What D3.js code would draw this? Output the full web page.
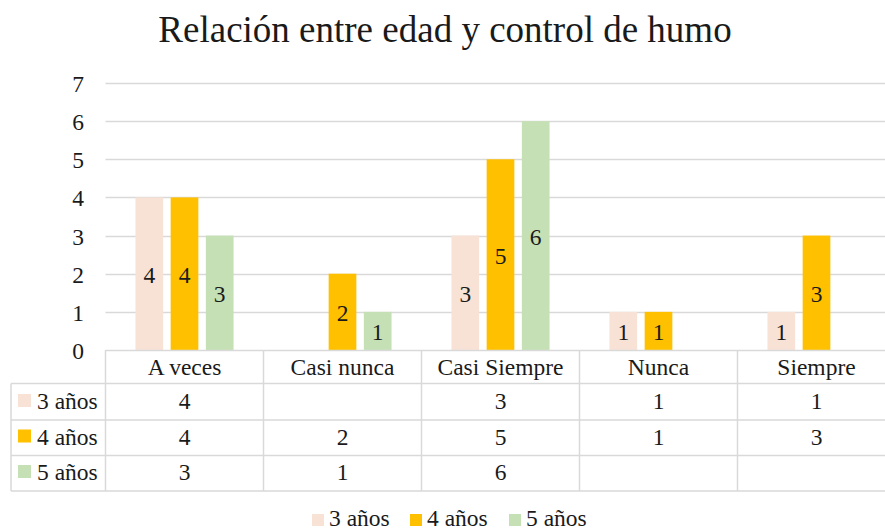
<!DOCTYPE html>
<html><head><meta charset="utf-8">
<script src="https://cdn.jsdelivr.net/npm/d3@7"></script>
<style>body{margin:0;background:#fff}svg{display:block}text{font-family:"Liberation Serif","Times New Roman",serif;fill:#1a1a1a}</style>
</head><body><svg id="c" width="885" height="531"></svg>
<script>
const title = "Relación entre edad y control de humo";
const categories = ["A veces", "Casi nunca", "Casi Siempre", "Nunca", "Siempre"];
const seriesNames = ["3 años", "4 años", "5 años"];
const values3 = [4, null, 3, 1, 1];
const values4 = [4, 2, 5, 1, 3];
const values5 = [3, 1, 6, null, null];
const colors = ["#F8E2D6", "#FFC000", "#C5E0B4"];
const yTicks = [0, 1, 2, 3, 4, 5, 6, 7];

(function draw() {
const seriesValues = [values3, values4, values5];
const svg = d3.select("#c");
const fs = "23.5px";
const pLeft = 105.5, pRight = 895.5, pTop = 83, pBottom = 350;
const x0 = d3.scaleBand().domain(categories).range([pLeft, pRight]).padding(0);
const x1 = d3.scaleBand().domain(seriesNames).range([0, x0.bandwidth()]).paddingInner(0.213).paddingOuter(0.851);
const y = d3.scaleLinear().domain([0, 7]).range([pBottom, pTop]);
const grid = "#d9d9d9";

svg.append("text").attr("x", 445).attr("y", 42).attr("text-anchor", "middle")
  .style("font-size", "37px").text(title);

// gridlines
svg.append("g").selectAll("line").data(yTicks.filter(d => d > 0)).join("line")
  .attr("x1", pLeft).attr("x2", pRight).attr("y1", d => Math.round(y(d)) + 0.5).attr("y2", d => Math.round(y(d)) + 0.5)
  .attr("stroke", grid).attr("stroke-width", 1.3);

// y axis labels
const yAxis = d3.axisLeft(y).tickValues(yTicks).tickSize(0).tickPadding(0).tickFormat(d3.format("d"));
const ga = svg.append("g").attr("transform", `translate(84,0)`).call(yAxis);
ga.select(".domain").remove();
ga.selectAll("text").attr("dy", "0.36em").style("font-size", fs).style("font-family", "Liberation Serif, serif").attr("fill", "#1a1a1a");

// bars
seriesNames.forEach((s, si) => {
  const data = categories.map((c, i) => ({c, v: seriesValues[si][i]})).filter(d => d.v != null);
  const g = svg.append("g");
  g.selectAll("rect").data(data).join("rect")
    .attr("x", d => x0(d.c) + x1(s)).attr("width", x1.bandwidth())
    .attr("y", d => y(d.v)).attr("height", d => y(0) - y(d.v))
    .attr("fill", colors[si]);
  g.selectAll("text").data(data).join("text")
    .attr("x", d => x0(d.c) + x1(s) + x1.bandwidth() / 2)
    .attr("y", d => (y(d.v) + y(0)) / 2).attr("dy", "0.38em")
    .attr("text-anchor", "middle").style("font-size", fs).text(d => d.v);
});

// data table
const baselines = [375, 409, 444.5, 480];
const tableLeft = 11;
const tg = svg.append("g");
tg.append("line").attr("x1", pLeft).attr("x2", pRight).attr("y1", 350.5).attr("y2", 350.5).attr("stroke", grid).attr("stroke-width", 1.5);
[383.5, 420, 455.5, 491].forEach(yy => tg.append("line").attr("x1", tableLeft).attr("x2", pRight).attr("y1", yy).attr("y2", yy).attr("stroke", grid).attr("stroke-width", 1.5));
tg.append("line").attr("x1", tableLeft).attr("x2", tableLeft).attr("y1", 383.5).attr("y2", 491).attr("stroke", grid).attr("stroke-width", 1.5);
categories.forEach(c => tg.append("line").attr("x1", x0(c)).attr("x2", x0(c)).attr("y1", 350).attr("y2", 491).attr("stroke", grid).attr("stroke-width", 1.5));
tg.selectAll("text.cat").data(categories).join("text").attr("class", "cat")
  .attr("x", d => x0(d) + x0.bandwidth() / 2).attr("y", baselines[0])
  .attr("text-anchor", "middle").style("font-size", fs).text(d => d);
seriesNames.forEach((s, si) => {
  const by = baselines[si + 1];
  tg.append("rect").attr("x", 18).attr("y", by - 15).attr("width", 13).attr("height", 13).attr("fill", colors[si]);
  tg.append("text").attr("x", 37).attr("y", by).style("font-size", fs).text(s);
  categories.forEach((c, i) => {
    const v = seriesValues[si][i];
    if (v != null) tg.append("text").attr("x", x0(c) + x0.bandwidth() / 2).attr("y", by)
      .attr("text-anchor", "middle").style("font-size", fs).text(v);
  });
});

// legend
const legX = [312, 410, 509];
const lg = svg.append("g");
seriesNames.forEach((s, si) => {
  lg.append("rect").attr("x", legX[si]).attr("y", 514).attr("width", 12).attr("height", 12).attr("fill", colors[si]);
  lg.append("text").attr("x", legX[si] + 17).attr("y", 526).style("font-size", fs).text(s);
});
})();
</script></body></html>
